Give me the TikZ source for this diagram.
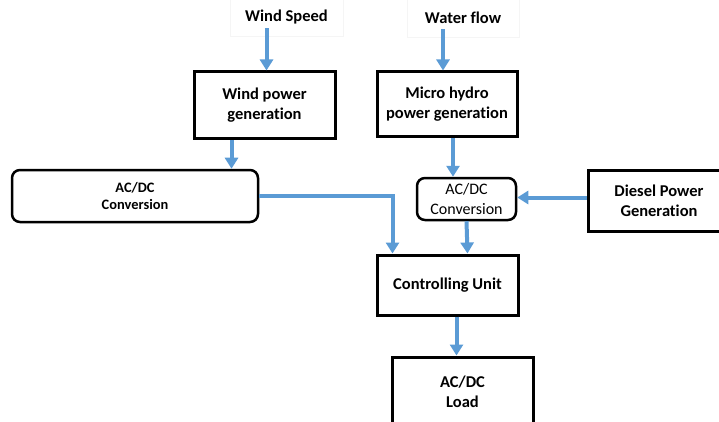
\documentclass[tikz,border=0pt]{standalone}
\usepackage{fontspec}
\setmainfont{Carlito}[Ligatures=NoCommon]
\usetikzlibrary{arrows.meta,positioning}
\definecolor{flowblue}{RGB}{91,155,213}

\begin{document}
\begin{tikzpicture}[x=1pt,y=-1pt,>={Triangle[width=13pt,length=11pt]},
  block/.style={draw,line width=3pt,align=center,inner sep=0pt,
    font=\fontsize{16.5}{20}\selectfont\bfseries},
  conv/.style={draw,line width=2.5pt,rounded corners=8pt,align=center,inner sep=0pt},
  source/.style={draw=black!4,line width=0.6pt,inner sep=0pt,
    font=\fontsize{16.5}{20}\selectfont\bfseries},
  flow/.style={->,flowblue,line width=4pt}]
\useasboundingbox (0,0) rectangle (719,422);
% inputs
\node[source,minimum width=113pt,minimum height=38pt] (speed) at (286.5,17) {Wind Speed};
\node[source,minimum width=112pt,minimum height=39pt] (water) at (463,17.5) {Water flow};
% generation
\node[block,minimum width=141pt,minimum height=67pt] (windgen) at (264.5,105.5) {Wind power\\generation};
\node[block,minimum width=140pt,minimum height=65pt] (hydrogen) at (447,104.5) {Micro hydro\\power generation};
\node[block,minimum width=142pt,minimum height=61pt] (diesel) at (659,200.5) {Diesel Power\\Generation};
% conversion
\node[conv,minimum width=246pt,minimum height=52pt,
  font=\fontsize{14.4}{17}\selectfont\bfseries] (windconv) at (135,196) {AC/DC\\Conversion};
\node[conv,minimum width=99pt,minimum height=42pt,
  font=\fontsize{16}{20}\selectfont] (hydroconv) at (466.5,199) {AC/DC\\Conversion};
% control and load
\node[block,minimum width=141pt,minimum height=60pt] (control) at (447.5,285) {Controlling Unit};
\node[block,minimum width=141pt,minimum height=70pt] (load) at (462.5,392) {AC/DC\\Load};

\draw[flow] ([xshift=-20pt,yshift=8pt]speed.south) -- ([xshift=2pt]windgen.north);
\draw[flow] ([xshift=-33pt]windgen.south) -- ([xshift=-33pt]windgen.south |- windconv.north);
\draw[flow] (windconv.east) -| ([xshift=-55pt]control.north);
\draw[flow] ([xshift=-20pt,yshift=8pt]water.south) -- ([xshift=-4pt]hydrogen.north);
\draw[flow] ([xshift=6pt]hydrogen.south) -- ([xshift=6pt]hydrogen.south |- hydroconv.north);
\draw[flow] ([yshift=3pt]diesel.west) -- ([yshift=3pt]diesel.west -| hydroconv.east);
\draw[flow] (hydroconv.south) -- ([xshift=20pt]control.north);
\draw[flow] ([xshift=9pt]control.south) -- ([xshift=9pt]control.south |- load.north);
\end{tikzpicture}
\end{document}
